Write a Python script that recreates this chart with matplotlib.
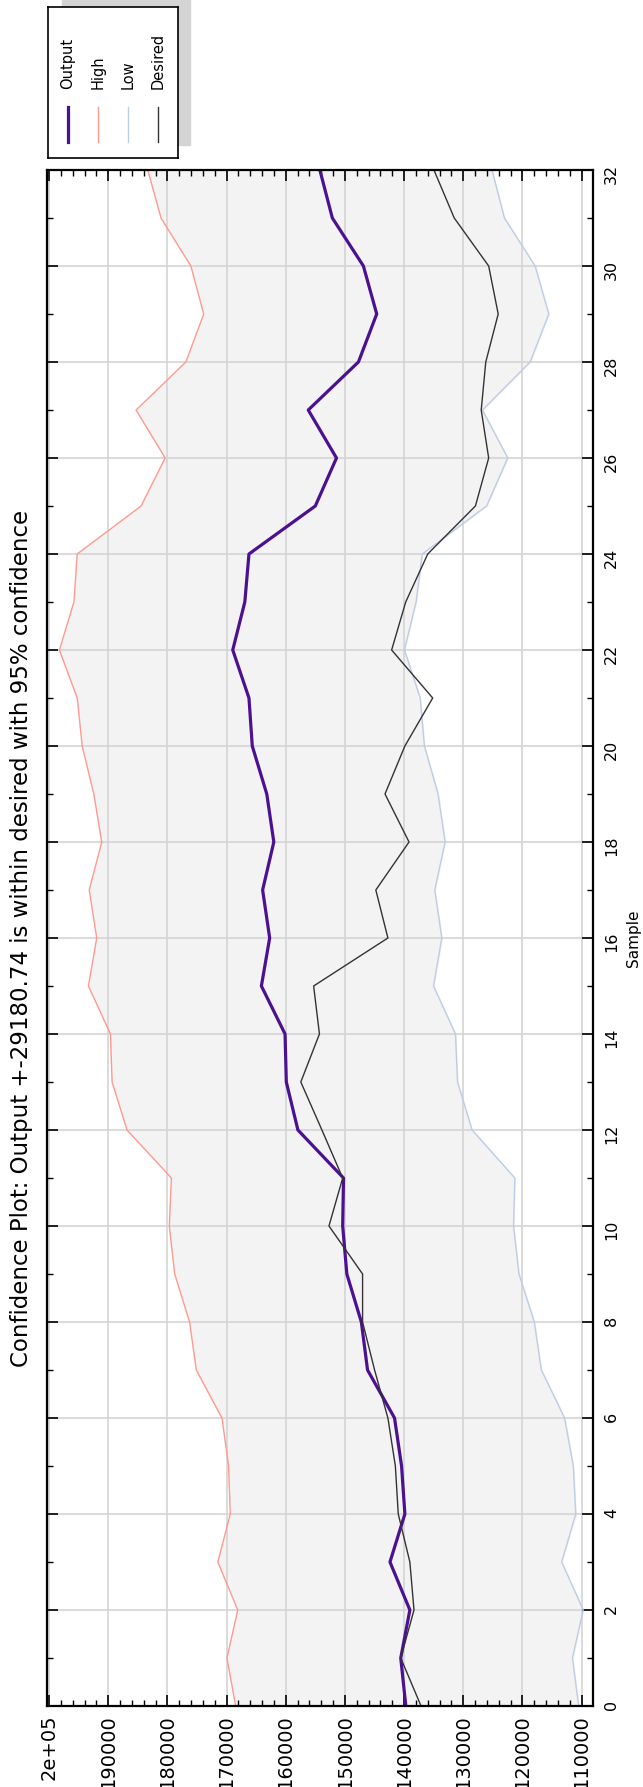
import matplotlib.pyplot as plt
from matplotlib.patches import Rectangle
from matplotlib.ticker import MultipleLocator

samples = list(range(33))
output = [139700, 140560, 139020, 142380, 139860, 140420, 141610, 146170, 147220,
          149670, 150370, 150230, 157940, 159900, 160110, 164110, 162710, 163900,
          162010, 163200, 165650, 166210, 168950, 166910, 166210, 155000, 151420,
          156190, 147710, 144620, 146870, 152120, 154230]
high = [168460, 169930, 168100, 171470, 169370, 169650, 170770, 175110, 176240,
        178760, 179670, 179320, 186820, 189340, 189620, 193340, 191940, 193200,
        191090, 192430, 194390, 195230, 198240, 195790, 195230, 184440, 180370,
        185280, 176870, 173850, 176030, 181070, 183310]
low = [110490, 111540, 109720, 113360, 110980, 111400, 112870, 116800, 117990,
       120580, 121500, 121280, 128500, 130960, 131310, 135020, 133620, 134810,
       133060, 134250, 136560, 137270, 139930, 137970, 136920, 126050, 122480,
       126750, 118690, 115540, 117850, 123040, 125140]
desired = [137130, 140560, 138320, 139020, 140980, 141470, 142730, 144980, 147010,
           147010, 152690, 150370, 153880, 157450, 154300, 155280, 142730, 144770,
           139160, 143220, 139860, 135160, 142100, 139720, 136000, 127940, 125700,
           126960, 126190, 124090, 125700, 131520, 134950]

value_ticks = [110000, 120000, 130000, 140000, 150000, 160000, 170000, 180000, 190000, 200000]
value_labels = ['110000', '120000', '130000', '140000', '150000', '160000',
                '170000', '180000', '190000', '2e+05']

names = ['Output', 'High', 'Low', 'Desired']
colors = ['#4b1190', '#ff9a90', '#bccde6', '#333333']
widths = [2.3, 1.0, 1.0, 1.0]
title = 'Confidence Plot: Output +-29180.74 is within desired with 95% confidence'

W, H = 643, 1787
top, bottom = 170, 1706
fig = plt.figure(figsize=(W / 100, H / 100), dpi=100)
ax = fig.add_axes([47 / W, 1 - bottom / H, (593 - 47) / W, (bottom - top) / H])

# the chart is drawn turned on its side: values run right-to-left, samples bottom-to-top
ax.fill_betweenx(samples, low, high, color='#f3f3f3', zorder=0.2)
for vals, name, c, lw in zip([output, high, low, desired], names, colors, widths):
    ax.plot(vals, samples, color=c, lw=lw, label=name, zorder=2)

ax.set_xlim(200340, 108070)
ax.set_ylim(0, 32)
ax.set_xticks(value_ticks, value_labels)
ax.xaxis.set_minor_locator(MultipleLocator(2000))
ax.yaxis.set_major_locator(MultipleLocator(2))
ax.yaxis.set_minor_locator(MultipleLocator(1))
ax.set_axisbelow(True)
ax.grid(True, which='major', color='#d4d4d4', lw=1.2)

ax.tick_params(which='both', direction='in', top=True, bottom=True, left=True, right=True,
               labelleft=False, labelright=True, labelbottom=True)
ax.tick_params(which='major', length=8, width=1.2)
ax.tick_params(which='minor', length=4, width=1.0)
ax.tick_params(axis='x', labelrotation=90, pad=6, labelsize=14)
ax.tick_params(axis='y', labelrotation=90, pad=8, labelsize=11.5)
for s in ax.spines.values():
    s.set_linewidth(1.6)

ax.yaxis.set_label_position('right')
ax.set_ylabel('Sample', fontsize=11, rotation=90, labelpad=5)

fig.text(22 / W, 1 - (top + bottom) / 2 / H, title, rotation=90,
         ha='center', va='center', fontsize=16.5)

# legend box, also turned on its side, with a drop shadow
fig.add_artist(Rectangle((62 / W, 1 - 145 / H), 128 / W, 145 / H,
                         transform=fig.transFigure, color='#d4d4d4', zorder=0))
lax = fig.add_axes([48 / W, 1 - 158 / H, 130 / W, 151 / H])
lax.set_xlim(0, 130)
lax.set_ylim(151, 0)
lax.set_xticks([])
lax.set_yticks([])
for s in lax.spines.values():
    s.set_linewidth(1.2)
for i, (name, c, lw) in enumerate(zip(names, colors, widths)):
    x = 20 + 30 * i
    lax.plot([x, x], [100, 135], color=c, lw=lw)
    lax.text(x, 82, name, rotation=90, ha='center', va='bottom', fontsize=10.5)

fig.savefig('out.png', dpi=100)
